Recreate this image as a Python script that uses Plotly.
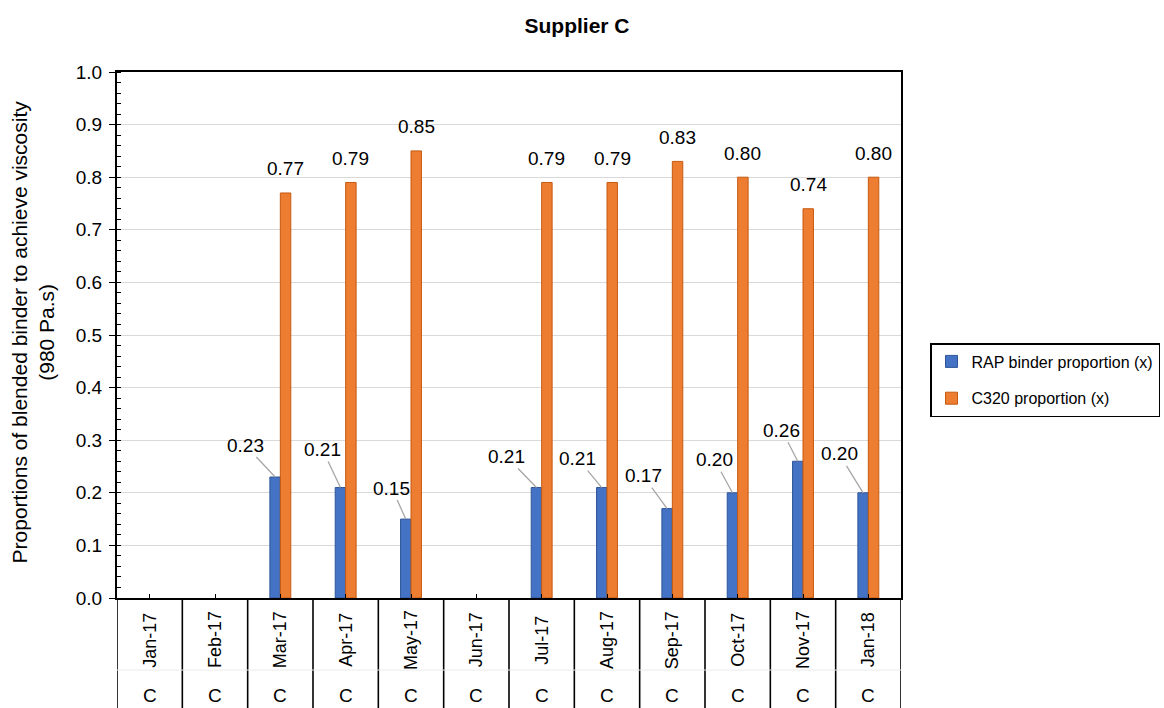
import plotly.graph_objects as go

# Monthly samples for supplier C
months = ["Jan-17", "Feb-17", "Mar-17", "Apr-17", "May-17", "Jun-17",
          "Jul-17", "Aug-17", "Sep-17", "Oct-17", "Nov-17", "Jan-18"]
supplier = ["C"] * 12

# Blend proportions needed to reach 980 Pa.s (None = no sample that month)
rap_binder = [None, None, 0.23, 0.21, 0.15, None, 0.21, 0.21, 0.17, 0.20, 0.26, 0.20]
c320 = [None, None, 0.77, 0.79, 0.85, None, 0.79, 0.79, 0.83, 0.80, 0.74, 0.80]

y_ticks = [0.0, 0.1, 0.2, 0.3, 0.4, 0.5, 0.6, 0.7, 0.8, 0.9, 1.0]

# Pixel offsets of the RAP value labels relative to their bar tops (leader lines)
rap_label_offsets = [None, None, (-30, -32), (-18, -38), (-14, -31), None,
                     (-30, -31), (-24, -29), (-24, -33), (-18, -33), (-16, -31), (-24, -39)]

FONT = "Liberation Sans, Arial, sans-serif"
BLUE = "#4472C4"
ORANGE = "#ED7D31"

x_pos = list(range(len(months)))

fig = go.Figure()
fig.add_trace(go.Bar(
    x=x_pos, y=rap_binder, name="RAP binder proportion (x)",
    marker=dict(color=BLUE, line=dict(color="#2F5597", width=1)),
    legendgroup="a", hoverinfo="skip",
))
fig.add_trace(go.Bar(
    x=x_pos, y=c320, name="C320 proportion (x)",
    marker=dict(color=ORANGE, line=dict(color="#C55A11", width=1)),
    legendgroup="b", hoverinfo="skip",
))

BAR_W = 0.16  # each bar's width in category units (bargap below)
annotations = []

# C320 labels sit above the orange bars
for i, v in enumerate(c320):
    if v is None:
        continue
    annotations.append(dict(
        x=i + BAR_W / 2, y=v, xref="x", yref="y", text=f"{v:.2f}",
        showarrow=False, yanchor="middle", yshift=24,
        font=dict(family=FONT, size=19, color="black"),
    ))

# RAP labels with grey leader lines to the blue bars
for i, v in enumerate(rap_binder):
    if v is None:
        continue
    ax, ay = rap_label_offsets[i]
    annotations.append(dict(
        x=i - BAR_W / 2, y=v, xref="x", yref="y", text=f"{v:.2f}",
        showarrow=True, arrowhead=0, arrowwidth=1.3, arrowcolor="#A6A6A6",
        ax=ax, ay=ay, standoff=0, startstandoff=0,
        font=dict(family=FONT, size=19, color="black"),
    ))

# Two-row category labels beneath the axis
for i, (m, s) in enumerate(zip(months, supplier)):
    annotations.append(dict(
        x=i, y=0, xref="x", yref="paper", text=m, showarrow=False,
        textangle=-90, yanchor="middle", xanchor="center", yshift=-42,
        font=dict(family=FONT, size=18, color="black"),
    ))
    annotations.append(dict(
        x=i, y=0, xref="x", yref="paper", text=s, showarrow=False,
        yanchor="middle", xanchor="center", yshift=-97,
        font=dict(family=FONT, size=19, color="black"),
    ))

# Y-axis title (two lines)
annotations.append(dict(
    x=-0.107, y=0.505, xref="paper", yref="paper",
    text="Proportions of blended binder to achieve viscosity<br>(980 Pa.s)",
    showarrow=False, textangle=-90, xanchor="center", yanchor="middle",
    font=dict(family=FONT, size=21, color="black"),
))

# Cell borders of the category table under the plot
shapes = []
for k in range(len(months) + 1):
    shapes.append(dict(
        type="line", xref="x", yref="paper", x0=k - 0.5, x1=k - 0.5,
        y0=0, y1=-0.25, line=dict(color="black", width=1.6), layer="above",
    ))
shapes.append(dict(
    type="line", xref="x", yref="paper", x0=-0.5, x1=len(months) - 0.5,
    y0=-0.137, y1=-0.137, line=dict(color="#EBEBEB", width=1),
))

fig.update_layout(
    width=1164, height=708,
    margin=dict(l=117, r=263, t=72, b=110, autoexpand=False),
    paper_bgcolor="white", plot_bgcolor="white",
    title=dict(text="<b>Supplier C</b>", x=577 / 1164, xanchor="center",
               y=1 - 26 / 708, yanchor="middle",
               font=dict(family=FONT, size=21, color="black")),
    barmode="group", bargap=1 - 2 * BAR_W, bargroupgap=0,
    showlegend=True,
    legend=dict(
        x=(930 - 117) / 784, y=(598 - 343) / 526, xanchor="left", yanchor="top",
        bordercolor="black", borderwidth=1.5, bgcolor="white",
        font=dict(family=FONT, size=16, color="black"),
        traceorder="grouped", tracegroupgap=13, itemwidth=30,
    ),
    annotations=annotations,
    shapes=shapes,
    font=dict(family=FONT, color="black"),
)

fig.update_xaxes(
    range=[-0.5, len(months) - 0.5], tickvals=x_pos, showticklabels=False,
    ticks="inside", ticklen=4, tickwidth=1.3, tickcolor="black",
    showline=True, linecolor="black", linewidth=2, mirror=True,
    showgrid=False, zeroline=False, fixedrange=True,
)
fig.update_yaxes(
    range=[0, 1.0], tickvals=y_ticks, ticktext=[f"{t:.1f}" for t in y_ticks],
    ticks="outside", ticklen=6, tickwidth=1.3, tickcolor="black",
    tickfont=dict(family=FONT, size=19, color="black"), ticklabelstandoff=3,
    showline=True, linecolor="black", linewidth=2, mirror=True,
    showgrid=True, gridcolor="#D9D9D9", gridwidth=1.3, zeroline=False,
    minor=dict(dtick=0.02, ticks="inside", ticklen=4, tickcolor="black", showgrid=False),
    fixedrange=True,
)

fig.write_html("out.html")
